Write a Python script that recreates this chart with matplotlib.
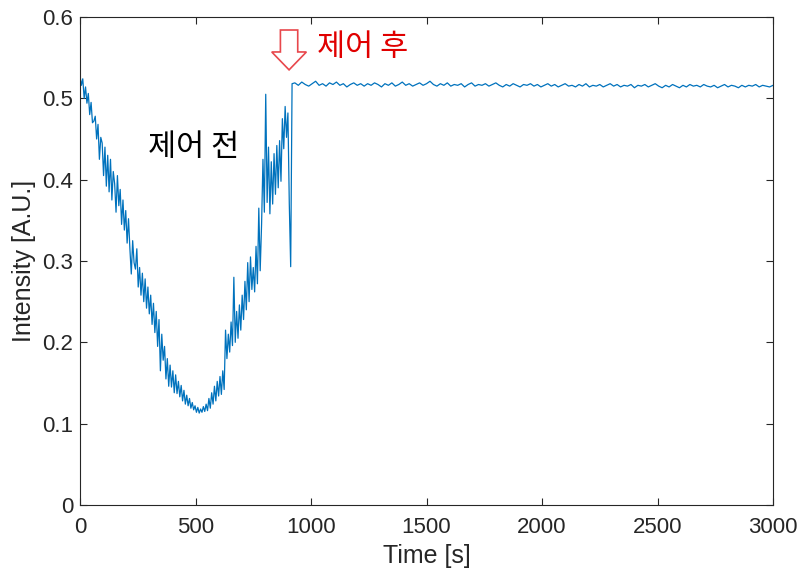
import numpy as np
import matplotlib
matplotlib.use('Agg')
from matplotlib import pyplot as plt
from matplotlib.patches import FancyArrow

plt.rcParams['font.family'] = ['Liberation Sans', 'Noto Sans CJK KR', 'DejaVu Sans']

#제어 전 구간 (6초 간격으로 읽은 값)
before_step = 6
before_intensity = [
    0.528, 0.516, 0.524, 0.500, 0.514, 0.494, 0.506, 0.480, 0.495, 0.470, 0.472,
    0.478, 0.450, 0.468, 0.425, 0.452, 0.445, 0.405, 0.440, 0.392, 0.430,
    0.385, 0.425, 0.375, 0.410, 0.395, 0.360, 0.405, 0.368, 0.388, 0.345,
    0.375, 0.338, 0.362, 0.322, 0.352, 0.315, 0.284, 0.325, 0.298, 0.290,
    0.315, 0.268, 0.292, 0.258, 0.285, 0.250, 0.278, 0.242, 0.268, 0.235,
    0.258, 0.222, 0.248, 0.212, 0.238, 0.195, 0.228, 0.165, 0.210, 0.178,
    0.195, 0.155, 0.180, 0.146, 0.172, 0.145, 0.165, 0.138, 0.160, 0.137,
    0.152, 0.133, 0.147, 0.128, 0.141, 0.124, 0.135, 0.122, 0.131, 0.119,
    0.126, 0.117, 0.122, 0.114, 0.120, 0.113, 0.118, 0.114, 0.121, 0.115,
    0.124, 0.116, 0.131, 0.119, 0.138, 0.124, 0.146, 0.128, 0.152, 0.134,
    0.158, 0.136, 0.165, 0.142, 0.215, 0.180, 0.210, 0.188, 0.225, 0.196,
    0.280, 0.200, 0.238, 0.205, 0.246, 0.215, 0.258, 0.228, 0.275, 0.240,
    0.298, 0.250, 0.305, 0.265, 0.292, 0.262, 0.318, 0.272, 0.365, 0.288,
    0.345, 0.425, 0.360, 0.505, 0.372, 0.440, 0.358, 0.422, 0.370, 0.432,
    0.382, 0.442, 0.390, 0.448, 0.398, 0.475, 0.438, 0.490, 0.452, 0.482,
    0.370, 0.293,
]

#제어 시작 시점
jump_time = 918
jump_intensity = 0.518

#제어 후 구간 (15초 간격)
after_start = 930
after_step = 15
after_intensity = [
    0.519, 0.516, 0.520, 0.517, 0.515, 0.518, 0.521, 0.516, 0.518, 0.515,
    0.519, 0.517, 0.520, 0.516, 0.518, 0.514, 0.517, 0.519, 0.516, 0.518,
    0.515, 0.518, 0.516, 0.519, 0.517, 0.514, 0.518, 0.516, 0.519, 0.515,
    0.517, 0.520, 0.516, 0.518, 0.515, 0.517, 0.519, 0.516, 0.518, 0.521,
    0.517, 0.515, 0.518, 0.516, 0.519, 0.515, 0.517, 0.516, 0.518, 0.514,
    0.517, 0.519, 0.515, 0.517, 0.516, 0.518, 0.515, 0.517, 0.519, 0.516,
    0.514, 0.517, 0.515, 0.518, 0.516, 0.514, 0.517, 0.516, 0.518, 0.515,
    0.517, 0.514, 0.516, 0.518, 0.515, 0.517, 0.514, 0.516, 0.518, 0.515,
    0.516, 0.514, 0.517, 0.515, 0.518, 0.514, 0.516, 0.515, 0.517, 0.514,
    0.516, 0.518, 0.515, 0.517, 0.514, 0.516, 0.515, 0.517, 0.513, 0.516,
    0.515, 0.517, 0.514, 0.516, 0.518, 0.515, 0.513, 0.516, 0.514, 0.517,
    0.515, 0.513, 0.516, 0.514, 0.517, 0.515, 0.516, 0.514, 0.517, 0.515,
    0.514, 0.516, 0.513, 0.515, 0.517, 0.514, 0.516, 0.515, 0.513, 0.516,
    0.514, 0.516, 0.515, 0.517, 0.514, 0.516, 0.515, 0.514, 0.516,
]

x_ticks = [0, 500, 1000, 1500, 2000, 2500, 3000]
y_ticks = [0, 0.1, 0.2, 0.3, 0.4, 0.5, 0.6]
y_ticklabels = ['0', '0.1', '0.2', '0.3', '0.4', '0.5', '0.6']

kr_font = ['Noto Sans CJK KR DemiLight', 'Noto Sans CJK KR', 'DejaVu Sans']


def build_series():
    t_before = np.arange(len(before_intensity)) * before_step
    t_after = after_start + np.arange(len(after_intensity)) * after_step
    t = np.concatenate([t_before, [jump_time], t_after])
    y = np.concatenate([before_intensity, [jump_intensity], after_intensity])
    return t, y


def draw_graph(t, y):
    fig = plt.figure(figsize=(8.04, 5.78), dpi=100)
    ax = fig.add_axes([0.0995, 0.1263, 0.862, 0.8443])
    ax.plot(t, y, color='#0072BD', linewidth=0.9)

    ax.set_xlim(0, 3000)
    ax.set_ylim(0, 0.6)
    ax.set_xticks(x_ticks)
    ax.set_yticks(y_ticks)
    ax.set_yticklabels(y_ticklabels)
    ax.tick_params(direction='in', length=5, width=0.8, colors='#262626',
                   labelsize=16, top=True, right=True)
    ax.tick_params(axis='x', pad=9)
    ax.tick_params(axis='y', pad=5)
    for s in ax.spines.values():
        s.set_color('#262626')
        s.set_linewidth(0.8)

    ax.set_xlabel('Time [s]', fontsize=18, color='#262626', labelpad=4)
    ax.set_ylabel('Intensity [A.U.]', fontsize=18, color='#262626', labelpad=4)

    #주석
    ax.text(294, 0.44, '제어 전', fontsize=22, family=kr_font,
            color='black', va='center', ha='left')
    ax.text(1026, 0.563, '제어 후', fontsize=22, family=kr_font,
            color='#E00000', va='center', ha='left')
    arrow = FancyArrow(905, 0.584, 0, -0.049, width=75, head_width=150,
                       head_length=0.022, length_includes_head=True,
                       facecolor='white', edgecolor='#E8474C', linewidth=1.2,
                       clip_on=False, zorder=5)
    ax.add_patch(arrow)
    return fig


if __name__ == '__main__':
    t, y = build_series()
    fig = draw_graph(t, y)
    fig.savefig('out.png', dpi=100)
